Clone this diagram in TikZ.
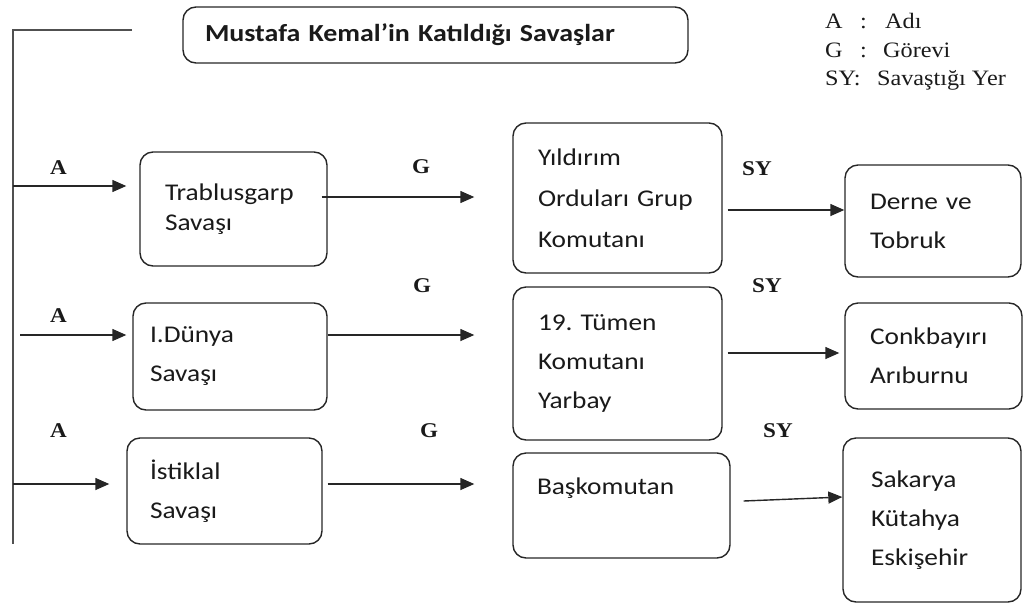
\documentclass[tikz,border=0pt]{standalone}
\usepackage{fontspec}
\setmainfont{Carlito}[FakeStretch=1.14]
\newfontfamily\lblserif{Liberation Serif}[FakeStretch=1.1]
\usetikzlibrary{arrows.meta}
\definecolor{boxc}{HTML}{262626}
\definecolor{trunkc}{HTML}{505050}
\definecolor{txtc}{HTML}{1A1A1A}
\frenchspacing
\begin{document}
\begin{tikzpicture}[x=1pt,y=-1pt,
  box/.style={draw=boxc, line width=1.4pt, rounded corners=13pt, align=left,
    inner ysep=0pt, text=txtc, font=\fontsize{24}{39}\selectfont},
  lbl/.style={font=\lblserif\bfseries\fontsize{21}{25}\selectfont, inner sep=0pt, anchor=base west, text=txtc},
  leg/.style={font=\lblserif\fontsize{22}{26}\selectfont, inner sep=0pt, anchor=base west, text=txtc},
  arr/.style={draw=boxc, line width=1.4pt, -{Triangle[length=14pt,width=12pt]}},
  trunk/.style={draw=trunkc, line width=1.5pt}]
\useasboundingbox (0,0) rectangle (1036,603);

% title and legend
\node[box, font=\bfseries\fontsize{24.5}{30}\selectfont, text width=461pt, inner xsep=22pt, minimum height=56pt] (title) at (435.5,35) {Mustafa Kemal’in Katıldığı Savaşlar};
\node[leg] (leg1) at (825,28) {\makebox[35pt][l]{A}\makebox[25pt][l]{:}Adı};
\node[leg] (leg2) at (825,57) {\makebox[35pt][l]{G}\makebox[23pt][l]{:}Görevi};
\node[leg] (leg3) at (825,85) {\makebox[52pt][l]{SY:}Savaştığı Yer};

% trunk
\coordinate (tTop) at (132,30);
\coordinate (tCorner) at (13,30);
\coordinate (tBot) at (13,544);
\draw[trunk] (tTop) -- (tCorner) -- (tBot);
\coordinate (t1) at (13,186);
\coordinate (t2) at (20,335);
\coordinate (t3) at (13,484);

% row 1
\node[box, text width=137pt, inner xsep=25pt, minimum height=114pt, font=\fontsize{24}{30}\selectfont] (b1) at (233.5,209) {Trablusgarp\\Savaşı};
\node[box, text width=159pt, inner xsep=25pt, minimum height=150pt, font=\fontsize{24}{41}\selectfont] (c1) at (617.5,198) {Yıldırım\\Orduları Grup\\Komutanı};
\node[box, text width=126pt, inner xsep=25pt, minimum height=112pt] (d1) at (933,221) {Derne ve\\Tobruk};

% row 2
\node[box, text width=160pt, inner xsep=17pt, minimum height=107pt] (b2) at (230,356.5) {I.Dünya\\Savaşı};
\node[box, text width=159pt, inner xsep=25pt, minimum height=153pt] (c2) at (617.5,363.5) {19. Tümen\\Komutanı\\Yarbay};
\node[box, text width=127pt, inner xsep=25pt, minimum height=106pt] (d2) at (933.5,356) {Conkbayırı\\Arıburnu};

% row 3
\node[box, text width=149pt, inner xsep=23pt, minimum height=106pt] (b3) at (224.5,491) {İstiklal\\Savaşı};
\node[box, text width=169pt, inner xsep=24pt, minimum height=105pt] (c3) at (621.5,505.5) {Başkomutan\\\mbox{}};
\node[box, text width=122pt, inner xsep=28pt, minimum height=164pt] (d3) at (932,520) {Sakarya\\Kütahya\\Eskişehir};

% labels
\node[lbl] (a1) at (50,174) {A};
\node[lbl] (a2) at (50,322) {A};
\node[lbl] (a3) at (50,437) {A};
\node[lbl] (g1) at (412,173) {G};
\node[lbl] (g2) at (413,292) {G};
\node[lbl] (g3) at (420,437) {G};
\node[lbl] (s1) at (742,175) {SY};
\node[lbl] (s2) at (752,292) {SY};
\node[lbl] (s3) at (763,437) {SY};

% arrows row 1
\draw[arr, shorten >=13pt] (t1) -- (t1 -| b1.west);
\draw[arr, shorten <=-6pt, shorten >=38pt] ([yshift=12pt]b1.east) -- ([yshift=12pt]b1.east -| c1.west);
\draw[arr] ([xshift=5pt,yshift=-12pt]c1.east) -- ([yshift=-12pt]c1.east -| d1.west);

% arrows row 2
\draw[arr, shorten >=6pt] (t2) -- (t2 -| b2.west);
\draw[arr, shorten >=38pt] ([yshift=21.5pt]b2.east) -- ([yshift=21.5pt]b2.east -| c2.west);
\draw[arr, shorten >=5pt] ([xshift=5pt,yshift=10.5pt]c2.east) -- ([yshift=10.5pt]c2.east -| d2.west);

% arrows row 3
\draw[arr, shorten >=17pt] (t3) -- (t3 -| b3.west);
\draw[arr, shorten >=38pt] ([xshift=5pt,yshift=7pt]b3.east) -- ([yshift=7pt]b3.east -| c3.west);
\draw[arr] ([xshift=13pt,yshift=4.5pt]c3.east) -- ([yshift=23pt]d3.west);
\end{tikzpicture}
\end{document}
